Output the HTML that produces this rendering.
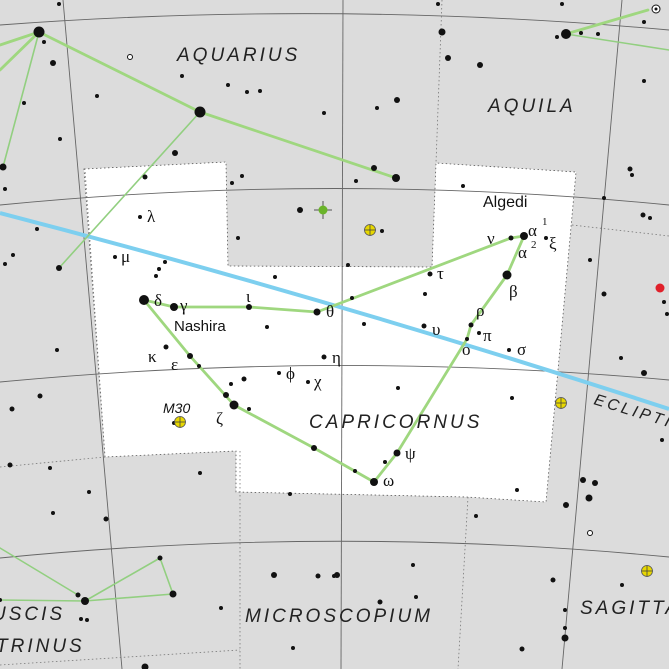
<!DOCTYPE html>
<html><head><meta charset="utf-8"><style>
html,body{margin:0;padding:0;background:#dcdcdc;}
svg{display:block;}
.g{font-family:"Liberation Serif","DejaVu Serif",serif;font-size:17px;fill:#111;}
.n{font-family:"Liberation Sans","DejaVu Sans",sans-serif;font-style:italic;font-size:19px;letter-spacing:3px;fill:#222;}
.s{font-family:"Liberation Sans","DejaVu Sans",sans-serif;font-size:15px;fill:#111;}
</style></head><body>
<svg id="chart" width="669" height="669" viewBox="0 0 669 669" xmlns="http://www.w3.org/2000/svg">
<rect width="669" height="669" fill="#dcdcdc"/>
<polygon fill="#fff" stroke="#555" stroke-width="0.8" stroke-dasharray="1.5,2.5"
 points="84,169 226,162 228,266 432,267 436,163 576,172 546,502 466,497 236,492 236,451 105,457"/>
<g fill="none" stroke="#666" stroke-width="0.9">
<path d="M63,0 L122,669"/><path d="M343,0 L341,669"/><path d="M622,0 L562,669"/>
<path d="M0,25 Q335,0 669,30"/><path d="M0,205 Q335,172 669,205"/><path d="M0,382 Q335,350 669,380"/><path d="M0,558 Q335,525 669,557"/>
</g>
<g fill="none" stroke="#777" stroke-width="0.8" stroke-dasharray="1.5,2.5">
<path d="M442,0 L436,163"/><path d="M468,497 L458,669"/><path d="M572,225 L669,236"/><path d="M0,467 L105,457"/><path d="M240,451 L240,669"/><path d="M0,665 L240,650"/><path d="M105,457 L85,169"/>
</g>
<path d="M0,213 Q335,300 669,409" fill="none" stroke="#7dcfef" stroke-width="4"/>
<g id="lines" fill="none" stroke="#9fd77f" stroke-linecap="round"></g>
<g id="stars"></g>
<g>
<text class="g" x="147" y="222">λ</text><text class="g" x="121" y="262">μ</text>
<text class="g" x="154" y="306">δ</text><text class="g" x="180" y="311">γ</text>
<text class="s" x="174" y="331">Nashira</text><text class="g" x="246" y="302">ι</text>
<text class="g" x="326" y="317">θ</text><text class="g" x="437" y="279">τ</text>
<text class="g" x="487" y="244">ν</text><text class="g" x="528" y="236">α</text><text class="g" x="542" y="225" style="font-size:11px">1</text>
<text class="g" x="518" y="258">α</text><text class="g" x="531" y="248" style="font-size:11px">2</text>
<text class="g" x="549" y="249">ξ</text><text class="g" x="509" y="297">β</text>
<text class="g" x="476" y="316">ρ</text><text class="g" x="483" y="341">π</text>
<text class="g" x="432" y="335">υ</text><text class="g" x="462" y="355">ο</text>
<text class="g" x="517" y="355">σ</text><text class="g" x="148" y="362">κ</text>
<text class="g" x="171" y="370">ε</text><text class="g" x="286" y="379">ϕ</text>
<text class="g" x="314" y="387">χ</text><text class="g" x="332" y="363">η</text>
<text class="g" x="216" y="424">ζ</text><text class="g" x="405" y="459">ψ</text>
<text class="g" x="383" y="486">ω</text>
<text class="s" x="483" y="207" style="font-size:16px">Algedi</text>
<text class="s" x="163" y="413" style="font-style:italic;font-size:14px">M30</text>
</g>
<g>
<text class="n" x="177" y="61">AQUARIUS</text>
<text class="n" x="488" y="112">AQUILA</text>
<text class="n" x="309" y="428">CAPRICORNUS</text>
<text class="n" x="245" y="622">MICROSCOPIUM</text>
<text class="n" x="580" y="614">SAGITTA</text>
<text class="n" x="-8" y="620">USCIS</text>
<text class="n" x="-4" y="652">TRINUS</text>
<text class="n" x="593" y="404" transform="rotate(17 593 404)" style="font-size:16px">ECLIPTIC</text>
</g>
</svg>
<script>
const starX=[59,39,44,53,97,24,182,228,247,260,324,200,60,175,3,5,145,232,242,300,140,238,37,13,5,59,115,165,159,156,275,144,174,249,317,267,
438,562,442,644,566,557,581,598,448,480,644,397,377,374,396,356,463,630,632,382,348,604,643,650,511,524,546,590,430,507,425,604,664,667,352,364,424,471,479,
467,509,621,644,398,512,662,397,385,355,374,517,583,595,589,566,476,553,413,622,337,380,416,565,565,565,522,
57,166,190,199,40,12,244,231,226,234,249,279,308,324,174,314,200,10,50,89,53,106,290,160,274,318,334,78,85,173,81,87,221,293,145,0];
const starY=[4,32,42,63,96,103,76,85,92,91,113,112,139,153,167,189,177,183,176,210,217,238,229,255,264,268,257,262,269,276,277,300,307,307,312,327,
4,4,32,22,34,37,33,34,58,65,81,100,108,168,178,181,186,169,175,231,265,198,215,218,238,236,238,260,274,275,294,294,302,314,298,324,326,325,333,
339,350,358,373,388,398,440,453,462,471,482,490,480,483,498,505,516,580,565,585,575,602,597,610,628,638,649,
350,347,356,366,396,409,379,384,395,405,409,373,382,357,423,448,473,465,468,492,513,519,494,558,575,576,576,595,601,594,619,620,608,648,667,600];
const starR=[2,5.5,2,3,2,2,2,2,2,2,2,5.5,2,3,3.5,2,2.5,2,2,3,2,2,2,2,2,3,2,2,2,2,2,5,4,3,3.5,2,
2,2,3.5,2,5,2,2,2,3,3,2,3,2,3,4,2,2,2.5,2,2,2,2,2.5,2,2.5,4,2,2,2.5,4.5,2,2.5,2,2,2,2,2.5,2.5,2,
2,2,2,3,2,2,2,3.5,2,2,4,2,3,3,3.5,3,2,2.5,2,2,3,2.5,2,2,2,3.5,2.5,
2,2.5,3,2,2.5,2.5,2.5,2,3,4.5,2,2,2,2.5,2,3,2,2.5,2,2,2,2.5,2,2.5,3,2.5,2,2.5,4,3.5,2,2,2,2,3.5,2];
const clusterX=[370,561,647,180];
const clusterY=[230,403,571,422];
const lineSegs=[[0,70,39,32,3],[0,45,39,32,3],[39,32,200,112,3],[200,112,396,178,3],[39,32,3,167,1.5],[200,112,59,268,1.5],
[566,34,648,10,3],[566,34,669,50,1.5],
[144,300,174,307,3],[174,307,249,307,3],[249,307,317,312,3],[317,312,511,238,3],[511,238,524,236,3],[524,236,507,275,3],[507,275,471,325,3],[471,325,467,339,3],[467,339,397,453,3],[397,453,374,482,3],[374,482,314,448,3],[314,448,234,405,3],[234,405,190,356,3],[190,356,144,300,3],
[0,600,85,601,1.5],[85,601,173,594,1.5],[173,594,160,558,1.5],[160,558,85,601,1.5],[0,548,78,595,1.5]];
const NS='http://www.w3.org/2000/svg';
const lg=document.getElementById('lines');
lineSegs.forEach(s=>{const l=document.createElementNS(NS,'line');


l.setAttribute('x1',s[0]);l.setAttribute('y1',s[1]);l.setAttribute('x2',s[2]);l.setAttribute('y2',s[3]);
l.setAttribute('stroke-width',s[4]===3?2.8:1.6);
if(s[4]!==3)l.setAttribute('stroke','#92cf80');
lg.appendChild(l);});
const sg=document.getElementById('stars');
starX.forEach((x,i)=>{const c=document.createElementNS(NS,'circle');


c.setAttribute('cx',x);c.setAttribute('cy',starY[i]);c.setAttribute('r',starR[i]);c.setAttribute('fill','#111');
sg.appendChild(c);});
clusterX.forEach((x,i)=>{const g=document.createElementNS(NS,'g');


const y=clusterY[i];
g.innerHTML=`<circle cx="${x}" cy="${y}" r="5.5" fill="#e8d800" stroke="#555" stroke-width="0.8"/><line x1="${x-5.5}" y1="${y}" x2="${x+5.5}" y2="${y}" stroke="#444" stroke-width="0.8"/><line x1="${x}" y1="${y-5.5}" x2="${x}" y2="${y+5.5}" stroke="#444" stroke-width="0.8"/>`;
sg.appendChild(g);});
const extra=document.createElementNS(NS,'g');


extra.innerHTML=`<line x1="314" y1="210" x2="332" y2="210" stroke="#555" stroke-width="1"/><line x1="323" y1="201" x2="323" y2="219" stroke="#555" stroke-width="1"/><circle cx="323" cy="210" r="4.5" fill="#6ab42a"/>
<circle cx="660" cy="288" r="4.5" fill="#e0202a"/>
<circle cx="130" cy="57" r="2.5" fill="#fff" stroke="#111" stroke-width="1"/>
<circle cx="590" cy="533" r="2.5" fill="#fff" stroke="#111" stroke-width="1"/>
<circle cx="656" cy="9" r="4" fill="#fff" stroke="#111" stroke-width="1"/><circle cx="656" cy="9" r="1.5" fill="#111"/>`;
sg.appendChild(extra);
</script>
</body></html>
